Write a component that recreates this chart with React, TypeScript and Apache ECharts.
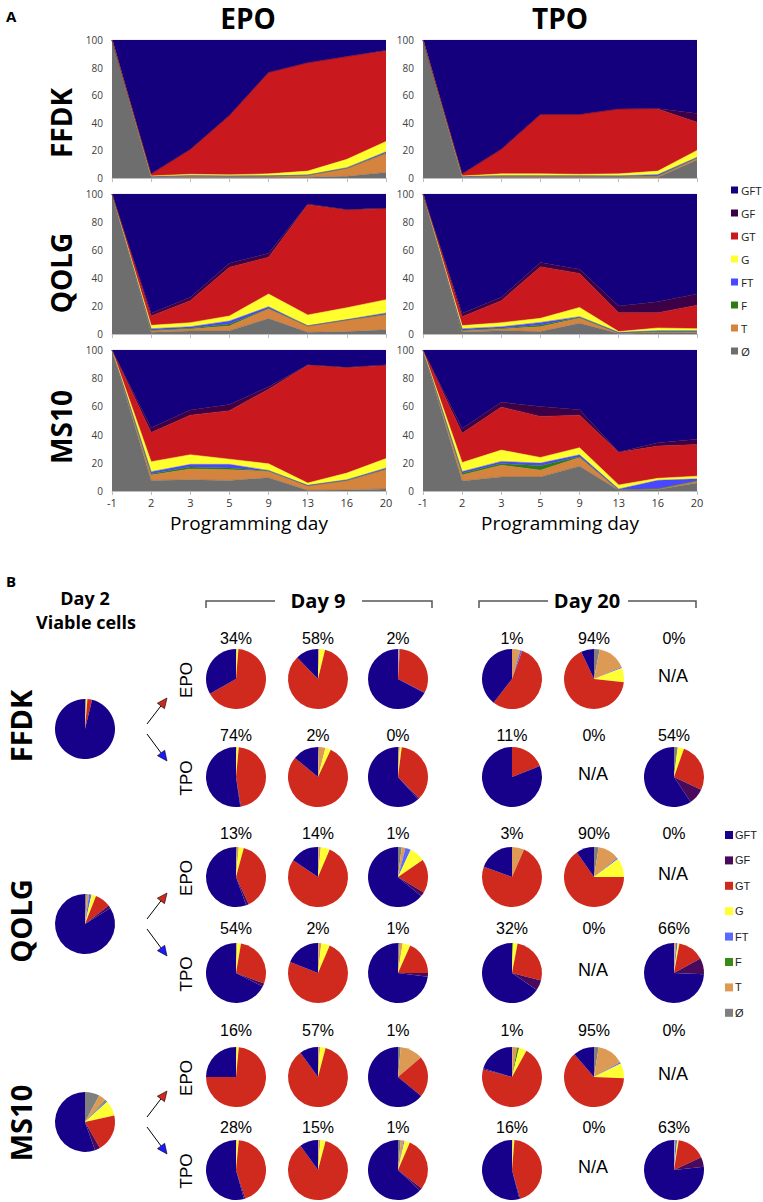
import React, { useEffect, useRef } from 'react';
import * as echarts from 'echarts';

// ---------------- DATA ----------------
const days = ['-1', '2', '3', '5', '9', '13', '16', '20'];
const legendOrder = ['GFT', 'GF', 'GT', 'G', 'FT', 'F', 'T', 'Ø'];
const stackOrder = ['Ø', 'T', 'F', 'FT', 'G', 'GT', 'GF', 'GFT'];
const genotypes = ['FFDK', 'QOLG', 'MS10'];
const conditions = ['EPO', 'TPO'];

// Panel A: % of cells per phenotype at each programming day
const ffdkEpo = {
  'Ø': [100, 0.5, 0.5, 0.5, 0.5, 0.5, 1.2, 4],
  T: [0, 0.5, 1, 0.8, 1, 1.5, 5.8, 14],
  F: [0, 0, 0, 0, 0, 0, 0, 0],
  FT: [0, 0, 0.2, 0.2, 0, 0.2, 0.5, 1],
  G: [0, 0.5, 1, 0.8, 1.5, 2.8, 6, 7.5],
  GT: [0, 1.5, 18, 43, 73.5, 78.5, 74.5, 65.5],
  GF: [0, 0, 0, 0, 0, 0, 0, 0.5],
  GFT: [0, 97, 79.3, 54.7, 23.5, 16.5, 12, 7.5],
};
const ffdkTpo = {
  'Ø': [100, 0.5, 0.5, 0.5, 0.5, 0.5, 0.5, 13],
  T: [0, 0.5, 1, 1, 1, 0.8, 1, 1.5],
  F: [0, 0, 0, 0, 0, 0, 0, 0],
  FT: [0, 0, 0, 0, 0, 0.2, 1, 0.5],
  G: [0, 0.5, 1.5, 1.5, 1.2, 1.5, 2.5, 5],
  GT: [0, 1.5, 17.8, 43, 43.3, 47, 45, 20.4],
  GF: [0, 0, 0, 0, 0, 0, 0.4, 6.3],
  GFT: [0, 97, 79.2, 54, 54, 50, 49.6, 53.3],
};
const qolgEpo = {
  'Ø': [100, 1.2, 2.1, 2.4, 11, 1.2, 1.7, 3],
  T: [0, 1.2, 1.5, 3.3, 7, 4.5, 8.3, 11],
  F: [0, 0.3, 0.5, 1.4, 0.3, 0, 0, 0],
  FT: [0, 1.1, 1.1, 2.2, 1.2, 0.2, 0.3, 1],
  G: [0, 2.4, 2.9, 3.6, 9.1, 7.7, 8.5, 9.5],
  GT: [0, 6.7, 15.7, 34.7, 26.2, 78.8, 69.8, 65],
  GF: [0, 1.9, 2.4, 2.9, 2.8, 0.5, 0.3, 0.5],
  GFT: [0, 85.2, 73.8, 49.5, 42.4, 7.1, 11.1, 10],
};
const qolgTpo = {
  'Ø': [100, 1.4, 2.4, 1.7, 7.6, 0.3, 1, 1],
  T: [0, 1, 1.2, 3.5, 3.8, 0.3, 0.3, 0.5],
  F: [0, 0.3, 0.5, 1.2, 0.4, 0.2, 0.7, 0.4],
  FT: [0, 1.1, 1.1, 1.9, 0.6, 0.4, 0.3, 0.5],
  G: [0, 2.2, 2.9, 2.9, 6.6, 0.5, 2, 1.4],
  GT: [0, 6.4, 15.7, 36.8, 24.3, 13.5, 10.9, 16.7],
  GF: [0, 2.4, 2.4, 3, 2.9, 4.8, 7.8, 8.1],
  GFT: [0, 85.2, 73.8, 49, 53.8, 80, 77, 71.4],
};
const ms10Epo = {
  'Ø': [100, 7.5, 8, 7.5, 9.4, 0.5, 0.7, 1.5],
  T: [0, 3.8, 7.6, 7.6, 4.5, 3.3, 6.8, 14],
  F: [0, 1, 1.4, 1.2, 0.3, 0, 0, 0],
  FT: [0, 1.4, 1.9, 2.6, 0.4, 0.2, 0.5, 0.8],
  G: [0, 7.1, 6.8, 3.7, 4.7, 1.7, 4.7, 6.7],
  GT: [0, 20.7, 28.1, 34.4, 52.9, 83.5, 74.8, 66],
  GF: [0, 3.3, 3.7, 4.3, 1.8, 0.4, 0.3, 0.5],
  GFT: [0, 55.2, 42.5, 38.7, 26, 10.4, 12.2, 10.5],
};
const ms10Tpo = {
  'Ø': [100, 7.1, 10, 10, 17.6, 0.5, 1, 5.7],
  T: [0, 4.3, 8.3, 4.8, 6.2, 0.2, 0.5, 1.4],
  F: [0, 1.2, 1.2, 3.1, 0.5, 0, 0, 0],
  FT: [0, 1.2, 1.5, 1.9, 1.4, 0.7, 6.1, 1.5],
  G: [0, 6.4, 8, 4, 5, 2.9, 1.4, 1.9],
  GT: [0, 20.8, 30.5, 29.1, 23.1, 23.1, 22.9, 22.4],
  GF: [0, 3.3, 3.5, 7.1, 3.8, 0.3, 2.4, 3.8],
  GFT: [0, 55.7, 37, 40, 42.4, 72.3, 65.7, 63.3],
};
const areaData = [
  [ffdkEpo, ffdkTpo],
  [qolgEpo, qolgTpo],
  [ms10Epo, ms10Tpo],
];

// Panel B: pie compositions, values in stackOrder [Ø, T, F, FT, G, GT, GF, GFT]
const day2Pies = [
  [0.5, 0.3, 0, 0, 0.5, 2.5, 0, 96.2],
  [1, 1.2, 0, 1.3, 2.5, 8.5, 1.5, 84],
  [7.9, 4, 0.5, 0.8, 8.3, 20.2, 2.9, 55.4],
];
// columns: day 9 (x3), day 20 (x3); null = N/A
const ffdkEpoPies = [
  [0.3, 0, 0, 0, 1, 65.5, 0, 33.2],
  [0.3, 0.5, 0, 0, 3, 84, 0, 12.2],
  [0.3, 0.3, 0, 0.4, 0, 31.5, 0.3, 67.2],
  [0, 4.5, 0, 1, 0, 55, 0, 39.5],
  [3, 15.5, 0, 0.5, 7.7, 66.3, 0, 7],
  null,
];
const ffdkTpoPies = [
  [0.3, 0, 0, 0, 1.2, 45.8, 0.4, 52.3],
  [0.5, 3.5, 0, 0, 3, 79, 0, 14],
  [0.5, 0.5, 0, 0, 1, 35.5, 0.8, 61.7],
  [0, 0, 0, 0, 0, 19, 0, 81],
  null,
  [2, 0, 0, 0, 3.4, 26.6, 8.6, 59.4],
];
const qolgEpoPies = [
  [0.5, 1, 0, 0, 2.7, 38.8, 1.5, 55.5],
  [0.3, 1.2, 0, 0, 4.9, 78, 0, 15.6],
  [2, 2, 0, 3, 8.4, 18.2, 2.4, 64],
  [0, 6.6, 0, 0, 0, 74, 0, 19.4],
  [2.5, 11.5, 0, 0.7, 10.3, 65.3, 0, 9.7],
  null,
];
const qolgTpoPies = [
  [0.3, 0.4, 0, 0, 2, 28, 1.8, 67.5],
  [0.3, 1.5, 0, 0, 4.6, 74.6, 0, 19],
  [1, 1.5, 0, 0, 4.2, 18.3, 2, 73],
  [0, 0, 0.5, 0, 2.5, 26, 5.6, 65.4],
  null,
  [0.3, 0.8, 0, 0.8, 1, 14.1, 8.7, 74.3],
];
const ms10EpoPies = [
  [0.3, 0, 0, 0, 1.2, 73.5, 0, 25],
  [0.3, 0.8, 0, 0, 3, 86, 0, 10],
  [1.5, 12.3, 0, 0, 0, 22.2, 0, 64],
  [0.3, 2.5, 1, 0, 4.2, 71, 0.7, 20.3],
  [2.5, 14.3, 0, 0.7, 8.2, 62.9, 0, 11.4],
  null,
];
const ms10TpoPies = [
  [0.3, 0, 0, 0, 1.2, 43.5, 0.7, 54.3],
  [0.3, 1, 0, 0, 2.8, 85.9, 0, 10],
  [1.5, 1.5, 0, 0.5, 3, 29, 1.5, 63],
  [0.3, 0, 0, 0, 1, 44.2, 0.5, 54],
  null,
  [0.4, 0.3, 0, 1, 0.8, 15.5, 5.3, 76.7],
];
const pieData = [
  [ffdkEpoPies, ffdkTpoPies],
  [qolgEpoPies, qolgTpoPies],
  [ms10EpoPies, ms10TpoPies],
];
const pctLabels = [
  [['34%', '58%', '2%', '1%', '94%', '0%'], ['74%', '2%', '0%', '11%', '0%', '54%']],
  [['13%', '14%', '1%', '3%', '90%', '0%'], ['54%', '2%', '1%', '32%', '0%', '66%']],
  [['16%', '57%', '1%', '1%', '95%', '0%'], ['28%', '15%', '1%', '16%', '0%', '63%']],
];

// ---------------- STYLE ----------------
const areaColors: Record<string, string> = {
  GFT: '#14007C', GF: '#3C0046', GT: '#C9191E', G: '#FFFF2E',
  FT: '#4848FF', F: '#2F7A14', T: '#D4843F', 'Ø': '#6E6E6E',
};
const pieColors: Record<string, string> = {
  GFT: '#17008A', GF: '#4A0A5C', GT: '#D0291D', G: '#FFFF33',
  FT: '#5A6AFF', F: '#3A8A1A', T: '#DC9A55', 'Ø': '#7F7F7F',
};
const HEAD = '"Open Sans", "DejaVu Sans", sans-serif';
const SANS = '"Liberation Sans", Arial, sans-serif';

const gridLefts = [112, 423];
const gridWidth = 274;
const gridTops = [40, 194, 350];
const gridHeights = [138, 140, 141];

const pieCols = [236, 318, 398, 512, 594, 674];
const pieRowY = [[679, 777], [877, 973], [1077, 1170]];
const pctRowY = [[638, 735], [833, 928], [1030, 1127]];
const day2Y = [729, 924, 1122];
const PIE_R = 30;

function buildOption() {
  const grid: any[] = [];
  const xAxis: any[] = [];
  const yAxis: any[] = [];
  const series: any[] = [];
  let idx = 0;
  for (let r = 0; r < 3; r++) {
    for (let c = 0; c < 2; c++) {
      grid.push({ left: gridLefts[c], top: gridTops[r], width: gridWidth, height: gridHeights[r] });
      xAxis.push({
        type: 'category', gridIndex: idx, data: days, boundaryGap: false,
        axisLine: { lineStyle: { color: '#bdbdbd', width: 1 } },
        axisTick: { show: true, length: 4, lineStyle: { color: '#bdbdbd' } },
        axisLabel: { show: r === 2, fontSize: 11, color: '#333', margin: 6, fontFamily: HEAD },
        splitLine: { show: false },
      });
      yAxis.push({
        type: 'value', gridIndex: idx, min: 0, max: 100, interval: 20,
        axisLine: { show: false }, axisTick: { show: false }, splitLine: { show: false },
        axisLabel: { fontSize: 10, color: '#404040', margin: 9, fontFamily: HEAD },
      });
      const d: any = areaData[r][c];
      stackOrder.forEach((name) => {
        series.push({
          type: 'line', name, xAxisIndex: idx, yAxisIndex: idx, stack: 's' + idx,
          data: d[name], symbol: 'none', silent: true,
          lineStyle: { width: 0.5, color: areaColors[name] },
          itemStyle: { color: areaColors[name] },
          areaStyle: { color: areaColors[name], opacity: 1 },
          emphasis: { disabled: true },
        });
      });
      idx++;
    }
  }

  const makePie = (vals: number[], cx: number, cy: number) => ({
    type: 'pie', center: [cx, cy], radius: PIE_R, startAngle: 90, clockwise: true,
    silent: true, label: { show: false }, labelLine: { show: false },
    emphasis: { disabled: true },
    itemStyle: { borderWidth: 0 },
    data: stackOrder.map((n, k) => ({ name: n, value: vals[k], itemStyle: { color: pieColors[n] } })),
  });

  const graphic: any[] = [];
  const txt = (text: string, x: number, y: number, font: string, extra: any = {}) => ({
    type: 'text', x, y, rotation: extra.rotation || 0, silent: true,
    style: {
      text, font, fill: extra.fill || '#000', textAlign: extra.align || 'center', textVerticalAlign: 'middle',
    },
  });

  // Panel A texts
  graphic.push(txt('A', 6, 16, `bold 15px ${HEAD}`, { align: 'left' }));
  graphic.push(txt('EPO', 248, 18, `bold 28px ${HEAD}`));
  graphic.push(txt('TPO', 560, 18, `bold 28px ${HEAD}`));
  const rowLabelAY = [123, 273, 427];
  genotypes.forEach((g, i) => graphic.push(txt(g, 61, rowLabelAY[i], `bold 28px ${HEAD}`, { rotation: Math.PI / 2 })));
  graphic.push(txt('Programming day', 249, 523, `19px ${HEAD}`));
  graphic.push(txt('Programming day', 560, 523, `19px ${HEAD}`));

  // Panel B texts
  graphic.push(txt('B', 6, 581, `bold 15px ${HEAD}`, { align: 'left' }));
  graphic.push(txt('Day 2', 85, 598, `bold 18px ${HEAD}`));
  graphic.push(txt('Viable cells', 86, 622, `bold 18px ${HEAD}`));
  graphic.push(txt('Day 9', 318, 600, `bold 20px ${HEAD}`));
  graphic.push(txt('Day 20', 587, 600, `bold 20px ${HEAD}`));
  const bracket = (pts: number[][]) => ({
    type: 'polyline', silent: true, shape: { points: pts },
    style: { stroke: '#555', lineWidth: 1.5, fill: null },
  });
  graphic.push(bracket([[206, 608], [206, 601], [275, 601]]));
  graphic.push(bracket([[362, 601], [432, 601], [432, 608]]));
  graphic.push(bracket([[479, 608], [479, 601], [548, 601]]));
  graphic.push(bracket([[628, 601], [696, 601], [696, 608]]));

  const rowLabelBY = [726, 921, 1123];
  const arrow = (x1: number, y1: number, x2: number, y2: number, color: string) => {
    const dx = x2 - x1, dy = y2 - y1;
    const len = Math.sqrt(dx * dx + dy * dy);
    const ux = dx / len, uy = dy / len;
    const L = 10, W = 9;
    const bx = x2 - ux * L, by = y2 - uy * L;
    const px = -uy, py = ux;
    return [
      { type: 'line', silent: true, shape: { x1, y1, x2: bx, y2: by }, style: { stroke: '#000', lineWidth: 1 } },
      {
        type: 'polygon', silent: true,
        shape: { points: [[x2, y2], [bx + px * W / 2, by + py * W / 2], [bx - px * W / 2, by - py * W / 2]] },
        style: { fill: color, stroke: '#000', lineWidth: 0.6 },
      },
    ];
  };

  for (let g = 0; g < 3; g++) {
    graphic.push(txt(genotypes[g], 20, rowLabelBY[g], `bold 29px ${HEAD}`, { rotation: Math.PI / 2 }));
    series.push(makePie(day2Pies[g], 85, day2Y[g]));
    graphic.push(...arrow(147, day2Y[g] - 5, 167, day2Y[g] - 31, '#D0281E'));
    graphic.push(...arrow(147, day2Y[g] + 5, 167, day2Y[g] + 32, '#1A1AFF'));
    for (let c = 0; c < 2; c++) {
      const py = pieRowY[g][c];
      graphic.push(txt(conditions[c], 186, py + 1, `17px ${SANS}`, { rotation: Math.PI / 2 }));
      for (let k = 0; k < 6; k++) {
        graphic.push(txt(pctLabels[g][c][k], pieCols[k], pctRowY[g][c], `16px ${SANS}`));
        const vals = pieData[g][c][k];
        if (vals) series.push(makePie(vals, pieCols[k], py));
        else graphic.push(txt('N/A', pieCols[k] - 1, py - 3, `18px ${SANS}`));
      }
    }
  }

  const legendCommon = {
    orient: 'vertical', icon: 'rect', selectedMode: false, padding: 0,
  };

  return {
    animation: false,
    backgroundColor: '#fff',
    textStyle: { fontFamily: HEAD },
    grid, xAxis, yAxis, series, graphic,
    legend: [
      {
        ...legendCommon, left: 731, top: 184, itemWidth: 7, itemHeight: 7, itemGap: 11,
        textStyle: { fontSize: 11.5, lineHeight: 12, color: '#222', fontFamily: HEAD, padding: [0, 0, 0, -2] },
        data: legendOrder.map((n) => ({ name: n, itemStyle: { color: areaColors[n] } })),
      },
      {
        ...legendCommon, left: 725, top: 829, itemWidth: 8, itemHeight: 8, itemGap: 13.4,
        textStyle: { fontSize: 11, lineHeight: 12, color: '#222', fontFamily: SANS, padding: [0, 0, 0, -3] },
        data: legendOrder.map((n) => ({ name: n, itemStyle: { color: pieColors[n] } })),
      },
    ],
  };
}

export default function App() {
  const ref = useRef<HTMLDivElement>(null);
  useEffect(() => {
    if (!ref.current) return;
    const chart = echarts.init(ref.current, null, { renderer: 'svg' });
    chart.setOption(buildOption() as any);
    return () => chart.dispose();
  }, []);
  return (
    <div
      ref={ref}
      style={{ position: 'absolute', left: 0, top: 0, width: 763, height: 1202, background: '#fff' }}
    />
  );
}
